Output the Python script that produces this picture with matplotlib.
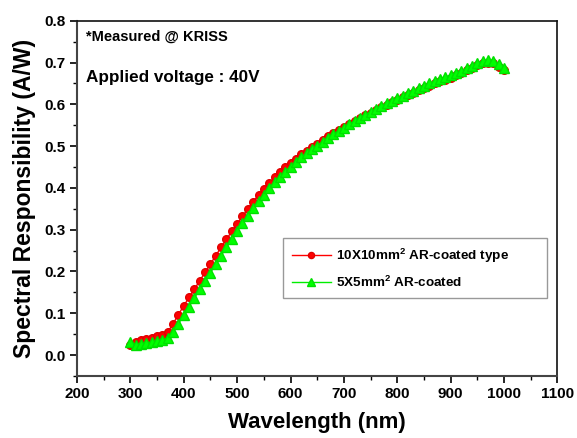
import numpy as np
import matplotlib
matplotlib.use("Agg")
import matplotlib.pyplot as plt
from matplotlib.ticker import MultipleLocator

plt.rcParams['font.family'] = ['Liberation Sans', 'DejaVu Sans']
plt.rcParams['font.weight'] = 'bold'
plt.rcParams['mathtext.fontset'] = 'custom'
plt.rcParams['mathtext.rm'] = 'Liberation Sans:bold'
plt.rcParams['mathtext.bf'] = 'Liberation Sans:bold'
plt.rcParams['mathtext.default'] = 'bf'

wavelength = list(range(300, 1001, 10))

resp_10x10 = [0.025, 0.032, 0.036, 0.039, 0.042, 0.045, 0.048, 0.055, 0.075, 0.097,
              0.118, 0.138, 0.158, 0.178, 0.198, 0.218, 0.238, 0.258, 0.277, 0.296,
              0.314, 0.332, 0.350, 0.367, 0.383, 0.398, 0.412, 0.425, 0.437, 0.449,
              0.460, 0.470, 0.480, 0.489, 0.498, 0.506, 0.515, 0.523, 0.531, 0.539,
              0.546, 0.553, 0.560, 0.567, 0.574, 0.580, 0.587, 0.593, 0.599, 0.605,
              0.611, 0.617, 0.622, 0.628, 0.634, 0.639, 0.644, 0.650, 0.655, 0.659,
              0.664, 0.669, 0.675, 0.681, 0.687, 0.693, 0.698, 0.700, 0.699, 0.690,
              0.682]

resp_5x5 = [0.032, 0.025, 0.027, 0.029, 0.031, 0.033, 0.036, 0.040, 0.055, 0.075,
            0.095, 0.116, 0.137, 0.157, 0.177, 0.197, 0.218, 0.238, 0.258, 0.277,
            0.296, 0.315, 0.333, 0.351, 0.368, 0.384, 0.399, 0.413, 0.426, 0.439,
            0.451, 0.462, 0.473, 0.483, 0.492, 0.501, 0.510, 0.519, 0.528, 0.536,
            0.544, 0.552, 0.560, 0.567, 0.575, 0.582, 0.589, 0.596, 0.602, 0.608,
            0.615, 0.621, 0.627, 0.633, 0.639, 0.644, 0.650, 0.655, 0.660, 0.665,
            0.670, 0.675, 0.680, 0.686, 0.692, 0.698, 0.703, 0.706, 0.704, 0.696,
            0.688]

labels = ['10X10mm$^2$ AR-coated type', '5X5mm$^2$ AR-coated']

fig = plt.figure(figsize=(5.77, 4.38), dpi=100)
ax = fig.add_axes([0.1334, 0.1416, 0.8328, 0.8111])

ax.plot(wavelength, resp_10x10, color='#ff0000', lw=1.0, marker='o', ms=5.5,
        markeredgecolor='#e00000', markerfacecolor='#ff0000', label=labels[0], zorder=2)
ax.plot(wavelength, resp_5x5, color='#00ee00', lw=1.0, marker='^', ms=6.5,
        markeredgecolor='#00e000', markerfacecolor='#00ff00', label=labels[1], zorder=3)

ax.set_xlim(200, 1100)
ax.set_ylim(-0.05, 0.8)
ax.xaxis.set_major_locator(MultipleLocator(100))
ax.xaxis.set_minor_locator(MultipleLocator(50))
ax.yaxis.set_minor_locator(MultipleLocator(0.05))
ax.set_yticks(np.arange(0, 0.81, 0.1))
ax.set_yticklabels(['%.1f' % v for v in np.arange(0, 0.81, 0.1)])
ax.tick_params(which='major', direction='out', length=5, width=1.2, labelsize=11,
               top=False, right=False, pad=3)
ax.tick_params(which='minor', direction='out', length=3, width=1.0, top=False, right=False)
for t in ax.get_xticklabels() + ax.get_yticklabels():
    t.set_fontweight('bold')

for s in ['left', 'bottom']:
    ax.spines[s].set_linewidth(1.5)
    ax.spines[s].set_color('#444444')
for s in ['top', 'right']:
    ax.spines[s].set_linewidth(1.2)
    ax.spines[s].set_color('#111111')

ax.set_xlabel('Wavelength (nm)', fontsize=16, fontweight='bold', labelpad=8)
ax.set_ylabel('Spectral Responsibility (A/W)', fontsize=16.5, fontweight='bold', labelpad=6)

ax.text(0.018, 0.955, '*Measured @ KRISS', transform=ax.transAxes, fontsize=10.5,
        fontweight='bold', va='center', ha='left')
ax.text(0.018, 0.84, 'Applied voltage : 40V', transform=ax.transAxes, fontsize=12.3,
        fontweight='bold', va='center', ha='left')

leg = ax.legend(loc='upper left', bbox_to_anchor=(0.4287, 0.236, 0.549, 0.152),
                mode='expand', borderaxespad=0, fontsize=9.7, frameon=True, fancybox=False,
                handlelength=2.9, borderpad=0.65, labelspacing=0.7, handletextpad=0.35,
                markerscale=0.8)
leg.get_frame().set_edgecolor('#808080')
leg.get_frame().set_linewidth(1.0)
for t in leg.get_texts():
    t.set_fontweight('bold')

fig.savefig('out.png', dpi=100)
